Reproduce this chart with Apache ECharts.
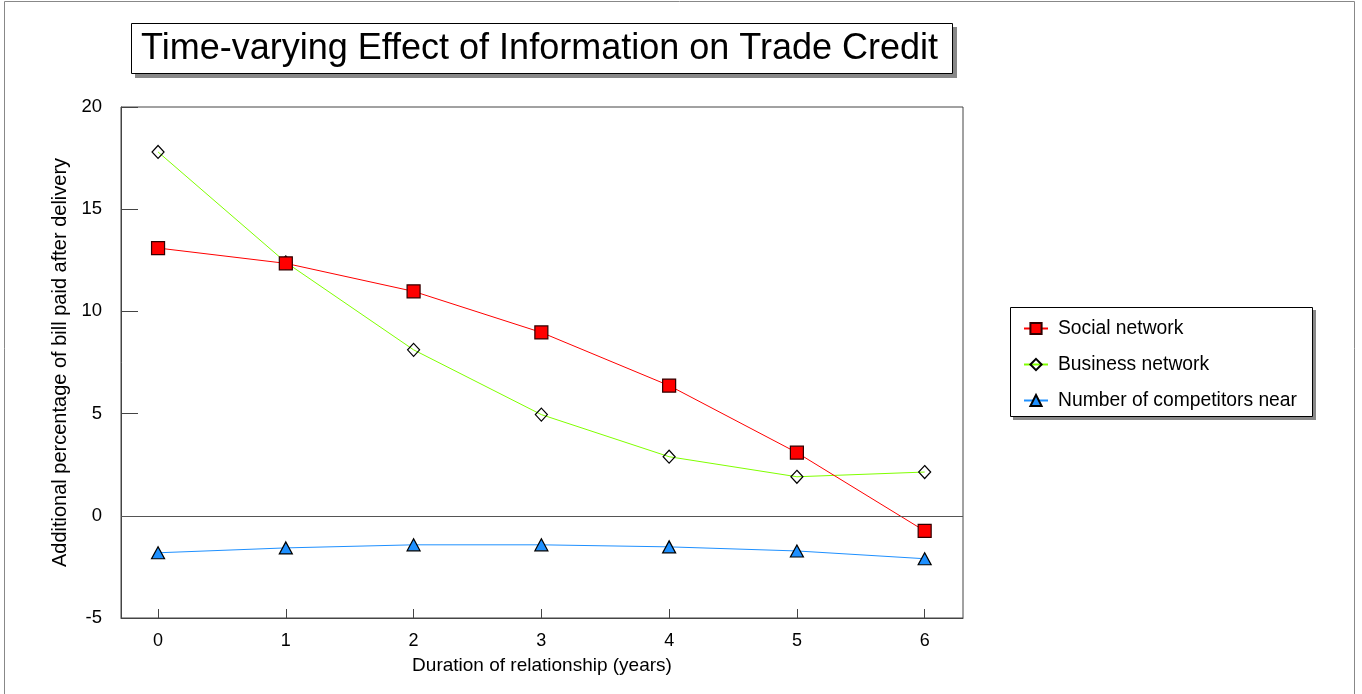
<!DOCTYPE html>
<html>
<head>
<meta charset="utf-8">
<script src="https://cdn.jsdelivr.net/npm/echarts@6/dist/echarts.min.js"></script>
<style>
html,body{margin:0;padding:0;background:#fff;}
#chart{width:1362px;height:694px;}
</style>
</head>
<body>
<div id="chart"></div>
<script>
const years = [0, 1, 2, 3, 4, 5, 6];
const socialNetwork = [13.1, 12.35, 10.98, 8.97, 6.37, 3.09, -0.74];
const businessNetwork = [17.8, 12.4, 8.12, 4.95, 2.89, 1.91, 2.14];
const competitorsNear = [-1.81, -1.57, -1.42, -1.42, -1.52, -1.72, -2.1];

const FONT = 'Liberation Sans, Arial, sans-serif';
const pair = (vals) => years.map((x, i) => [x, vals[i]]);

const chart = echarts.init(document.getElementById('chart'), null, {renderer: 'canvas'});
chart.setOption({
  backgroundColor: '#fff',
  animation: false,
  textStyle: {fontFamily: FONT, color: '#000'},
  title: {
    text: 'Time-varying Effect of Information on Trade Credit',
    left: 141, top: 31,
    padding: 0,
    textStyle: {fontFamily: FONT, fontSize: 36, fontWeight: 'normal', color: '#000'}
  },
  legend: {
    orient: 'vertical',
    left: 1010, top: 309,
    padding: [10, 15, 10, 13],
    itemWidth: 24, itemHeight: 14, itemGap: 17,
    textStyle: {fontFamily: FONT, fontSize: 19.3, color: '#000', padding: [0, 0, 0, 5]},
    data: ['Social network', 'Business network', 'Number of competitors near']
  },
  grid: {
    left: 121, top: 107, right: 399, bottom: 76,
    show: true, borderColor: '#444', borderWidth: 1, backgroundColor: 'transparent'
  },
  xAxis: {
    type: 'value',
    min: -0.29, max: 6.3,
    name: 'Duration of relationship (years)',
    nameLocation: 'middle', nameGap: 38,
    nameTextStyle: {fontFamily: FONT, fontSize: 19, color: '#000'},
    axisLine: {show: true, onZero: false, lineStyle: {color: '#444'}},
    axisTick: {show: true, inside: true, length: 9, customValues: years, lineStyle: {color: '#444'}},
    axisLabel: {show: true, customValues: years, fontFamily: FONT, fontSize: 18, color: '#000', margin: 14},
    splitLine: {show: false}
  },
  yAxis: {
    type: 'value',
    min: -5, max: 20, interval: 5,
    name: 'Additional percentage of bill paid after delivery',
    nameLocation: 'middle', nameGap: 50, nameRotate: 90,
    nameTextStyle: {fontFamily: FONT, fontSize: 20, color: '#000'},
    axisLine: {show: true, onZero: false, lineStyle: {color: '#444'}},
    axisTick: {show: true, inside: true, length: 17, lineStyle: {color: '#444'}},
    axisLabel: {fontFamily: FONT, fontSize: 18.5, color: '#000', margin: 19},
    splitLine: {show: false}
  },
  series: [
    {
      name: 'Social network', type: 'line', data: pair(socialNetwork),
      symbol: 'rect', symbolSize: 13,
      lineStyle: {color: '#ff0000', width: 1},
      itemStyle: {color: '#ff0000', borderColor: '#300000', borderWidth: 1.2},
      z: 4,
      markLine: {
        silent: true, symbol: 'none', label: {show: false},
        lineStyle: {color: '#555', type: 'solid', width: 1},
        data: [{yAxis: 0}]
      }
    },
    {
      name: 'Business network', type: 'line', data: pair(businessNetwork),
      symbol: 'diamond', symbolSize: [12, 13],
      lineStyle: {color: '#80ff00', width: 1},
      itemStyle: {color: 'rgba(255,255,255,0)', borderColor: '#000', borderWidth: 1.2},
      z: 3
    },
    {
      name: 'Number of competitors near', type: 'line', data: pair(competitorsNear),
      symbol: 'triangle', symbolSize: [13, 12],
      lineStyle: {color: '#1e90ff', width: 1},
      itemStyle: {color: '#1e90ff', borderColor: '#000', borderWidth: 1.2},
      z: 3
    }
  ],
  graphic: [
    {type: 'rect', z: 0, silent: true, shape: {x: 4.5, y: 1.5, width: 1350, height: 720}, style: {fill: 'none', stroke: '#888', lineWidth: 1}},
    {type: 'rect', z: 0, silent: true, shape: {x: 135, y: 27, width: 822, height: 51}, style: {fill: '#888', stroke: null}},
    {type: 'rect', z: 1, silent: true, shape: {x: 131.5, y: 23.5, width: 821, height: 50}, style: {fill: '#fff', stroke: '#000', lineWidth: 1}},
    {type: 'rect', z: 0, silent: true, shape: {x: 1013, y: 310, width: 303, height: 110}, style: {fill: '#888', stroke: null}},
    {type: 'rect', z: 1, silent: true, shape: {x: 1010.5, y: 307.5, width: 302, height: 109}, style: {fill: '#fff', stroke: '#000', lineWidth: 1}}
  ]
});
</script>
</body>
</html>
